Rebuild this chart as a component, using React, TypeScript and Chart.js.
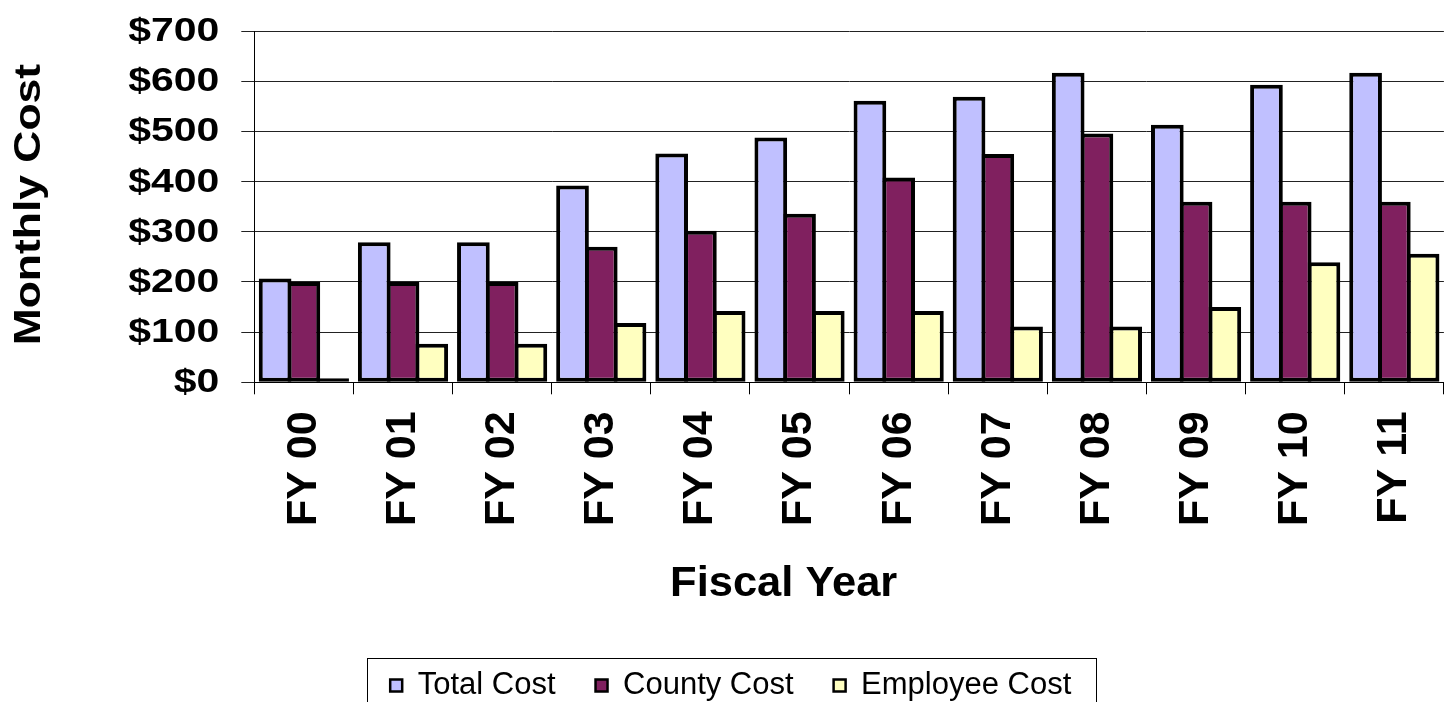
import React, { useEffect, useRef } from 'react';
import { Chart, registerables } from 'chart.js';

Chart.register(...registerables);

const categories = ['FY 00', 'FY 01', 'FY 02', 'FY 03', 'FY 04', 'FY 05', 'FY 06', 'FY 07', 'FY 08', 'FY 09', 'FY 10', 'FY 11'];
const totalCost = [207, 279, 279, 392, 456, 488, 561, 569, 617, 513, 593, 617];
const countyCost = [200, 200, 200, 270, 302, 336, 408, 455, 496, 360, 360, 360];
const employeeCost = [8, 77, 77, 118, 142, 142, 142, 111, 111, 150, 239, 256];
const seriesNames = ['Total Cost', 'County Cost', 'Employee Cost'];
const xTitle = 'Fiscal Year';
const yTitle = 'Monthly Cost';
const yMin = 0;
const yMax = 700;
const yStep = 100;

const FONT = "'Liberation Sans', Arial, Helvetica, sans-serif";
const CANVAS_W = 1463;
const CANVAS_H = 711;

export default function App() {
  const ref = useRef<HTMLCanvasElement>(null);

  useEffect(() => {
    const canvas = ref.current;
    if (!canvas) return;

    const overlay = {
      id: 'overlay',
      afterDraw(chart: any) {
        const ctx = chart.ctx as CanvasRenderingContext2D;
        const ys = chart.scales.y;
        const xs = chart.scales.x;
        const area = chart.chartArea;
        ctx.save();
        ctx.fillStyle = '#000';

        // y tick labels (from the axis ticks)
        ctx.font = `bold 33px ${FONT}`;
        ctx.textAlign = 'right';
        ctx.textBaseline = 'middle';
        ys.ticks.forEach((t: any) => {
          const py = ys.getPixelForValue(t.value);
          ctx.save();
          ctx.translate(ys.right - 35, py + 1);
          ctx.scale(1.24, 1);
          ctx.fillText(String(t.label), 0, 0);
          ctx.restore();
        });

        // y axis title
        ctx.font = `bold 37.5px ${FONT}`;
        ctx.textAlign = 'center';
        ctx.textBaseline = 'alphabetic';
        ctx.save();
        ctx.translate(ys.left + 39.5, (area.top + area.bottom) / 2 - 2);
        ctx.rotate(-Math.PI / 2);
        ctx.scale(1.185, 1);
        ctx.fillText(yTitle, 0, 0);
        ctx.restore();

        // x axis title
        ctx.font = `bold 42px ${FONT}`;
        ctx.save();
        ctx.translate(xs.left + xs.width * 0.445, xs.top + 213.7);
        ctx.scale(1.035, 1);
        ctx.fillText(xTitle, 0, 0);
        ctx.restore();

        // legend border
        const hb = chart.legend && chart.legend.legendHitBoxes;
        if (hb && hb.length) {
          const first = hb[0];
          const last = hb[hb.length - 1];
          const cy = first.top + first.height / 2;
          const left = Math.round(first.left - 23) + 0.5;
          const right = Math.round(last.left + last.width + 25) + 0.5;
          const top = Math.round(cy - 28) + 0.5;
          ctx.strokeStyle = '#000';
          ctx.lineWidth = 1;
          ctx.strokeRect(left, top, right - left, 80);
        }
        ctx.restore();
      },
    };

    const chart = new Chart(canvas, {
      type: 'bar',
      data: {
        labels: categories,
        datasets: [
          { label: seriesNames[0], data: totalCost, backgroundColor: '#C0C0FF', borderColor: '#000', borderWidth: 4, borderSkipped: false },
          { label: seriesNames[1], data: countyCost, backgroundColor: '#80205F', borderColor: '#000', borderWidth: 4, borderSkipped: false },
          { label: seriesNames[2], data: employeeCost, backgroundColor: '#FFFFC0', borderColor: '#000', borderWidth: 4, borderSkipped: false },
        ],
      },
      options: {
        animation: false,
        responsive: false,
        maintainAspectRatio: false,
        devicePixelRatio: 1,
        layout: { padding: { top: 31, left: 0, right: 1.5, bottom: 0 } },
        datasets: { bar: { categoryPercentage: 0.87, barPercentage: 1.137 } },
        plugins: {
          legend: {
            position: 'bottom',
            labels: {
              font: { family: FONT, size: 31 },
              color: '#000',
              boxWidth: 12,
              boxHeight: 12,
              padding: 40,
              generateLabels: (c: any) =>
                Chart.defaults.plugins.legend.labels.generateLabels(c).map((l: any) => ({ ...l, lineWidth: 2.5 })),
            },
          },
          tooltip: { enabled: false },
          title: { display: false },
        },
        scales: {
          x: {
            grid: { display: true, drawOnChartArea: false, drawTicks: true, tickLength: 12, color: '#000', offset: true },
            border: { display: true, color: '#000', width: 1 },
            ticks: {
              font: { family: FONT, size: 43, weight: 'bold' },
              color: '#000',
              maxRotation: 90,
              minRotation: 90,
              autoSkip: false,
              padding: 17,
            },
            afterFit: (s: any) => {
              s.height = 247.7;
            },
          },
          y: {
            min: yMin,
            max: yMax,
            ticks: {
              stepSize: yStep,
              color: 'rgba(0,0,0,0)',
              font: { family: FONT, size: 33, weight: 'bold' },
              callback: (v: any) => '$' + v,
            },
            grid: { color: '#222', tickLength: 13, lineWidth: 1 },
            border: { color: '#000', width: 1 },
            afterFit: (s: any) => {
              s.width = 254.3;
            },
          },
        },
      },
      plugins: [overlay],
    } as any);

    return () => chart.destroy();
  }, []);

  return (
    <div style={{ position: 'fixed', left: 0, top: 0, width: 1449, height: 702, overflow: 'hidden', background: '#fff' }}>
      <canvas ref={ref} width={CANVAS_W} height={CANVAS_H} style={{ display: 'block', width: CANVAS_W, height: CANVAS_H }} />
    </div>
  );
}
